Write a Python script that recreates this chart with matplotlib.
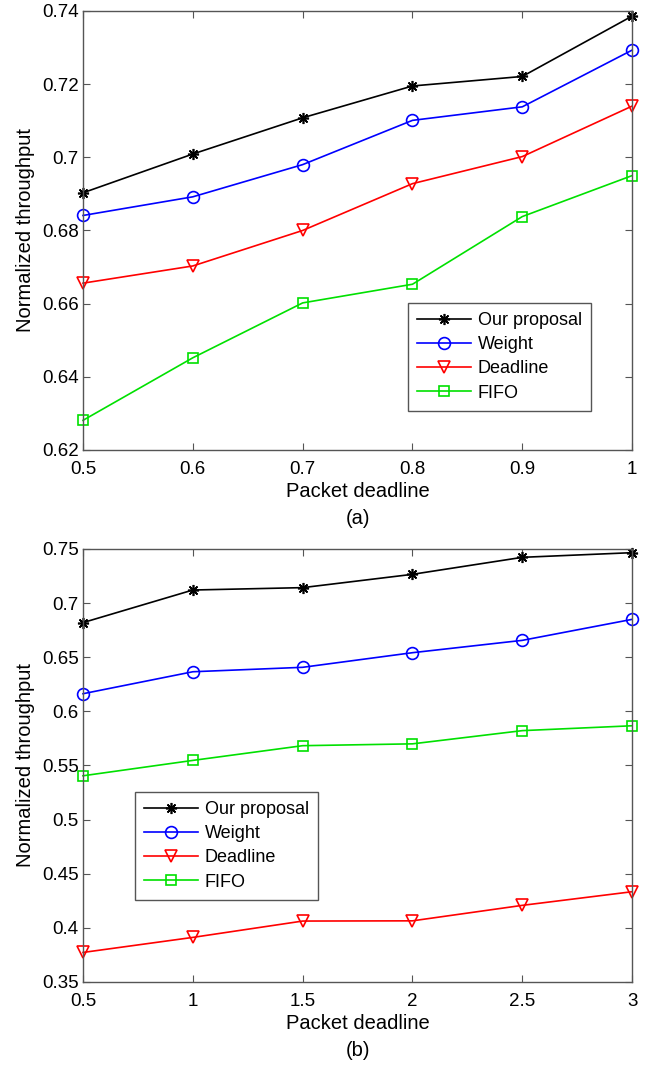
import matplotlib
matplotlib.use("Agg")
import matplotlib.pyplot as plt

plt.rcParams['font.family'] = ['Liberation Sans', 'DejaVu Sans']

# (a) deadline 0.5 .. 1
x_a = [0.5, 0.6, 0.7, 0.8, 0.9, 1.0]
ours_a = [0.6903, 0.7009, 0.7108, 0.7195, 0.7221, 0.7386]
weight_a = [0.6841, 0.6892, 0.6980, 0.7101, 0.7138, 0.7293]
deadline_a = [0.6656, 0.6703, 0.6800, 0.6928, 0.7002, 0.7140]
fifo_a = [0.6281, 0.6452, 0.6602, 0.6653, 0.6838, 0.6950]

# (b) deadline 0.5 .. 3
x_b = [0.5, 1.0, 1.5, 2.0, 2.5, 3.0]
ours_b = [0.6820, 0.7121, 0.7143, 0.7266, 0.7423, 0.7466]
weight_b = [0.6163, 0.6366, 0.6407, 0.6542, 0.6656, 0.6850]
deadline_b = [0.3773, 0.3912, 0.4063, 0.4065, 0.4208, 0.4334]
fifo_b = [0.5405, 0.5547, 0.5683, 0.5700, 0.5822, 0.5867]

labels = ['Our proposal', 'Weight', 'Deadline', 'FIFO']
# matlab-like '*' = plus and cross overlaid
styles = [('k', (8, 2, 0), 8), ('b', 'o', 8.5), ('r', 'v', 9), ('#00e000', 's', 6.5)]

fig = plt.figure(figsize=(6.46, 10.66), dpi=100)
ax1 = fig.add_axes([0.1285, 0.5779, 0.850, 0.4118])
ax2 = fig.add_axes([0.1285, 0.0788, 0.850, 0.4062])

def draw(ax, x, series, yticks, ylim, tag, leg_pos):
    for y, lab, (c, m, ms) in zip(series, labels, styles):
        ax.plot(x, y, color=c, marker=m, markersize=ms, markerfacecolor='none',
                markeredgecolor=c, markeredgewidth=1.2, linewidth=1.2, label=lab,
                clip_on=False)
    ax.set_xlim(x[0], x[-1])
    ax.set_ylim(*ylim)
    ax.set_xticks(x)
    ax.set_xticklabels([f'{t:g}' for t in x])
    ax.set_yticks(yticks)
    ax.set_yticklabels([f'{t:g}' for t in yticks])
    ax.tick_params(direction='in', top=True, right=True, labelsize=13.5,
                   length=5, color='#555555')
    ax.tick_params(axis='x', pad=8)
    ax.tick_params(axis='y', pad=3)
    for s in ax.spines.values():
        s.set_color('#555555')
        s.set_linewidth(1.0)
    ax.set_ylabel('Normalized throughput', fontsize=14.5, labelpad=5)
    ax.set_xlabel('Packet deadline\n' + tag, fontsize=14.5,
                  labelpad=3, linespacing=1.5)
    leg = ax.legend(loc='upper left', bbox_to_anchor=leg_pos, fontsize=13,
                    fancybox=False, edgecolor='#555555', framealpha=1,
                    handlelength=3.0, borderpad=0.5, labelspacing=0.4,
                    handletextpad=0.35, borderaxespad=0)
    leg.get_frame().set_linewidth(1.0)

draw(ax1, x_a, [ours_a, weight_a, deadline_a, fifo_a],
     [0.62, 0.64, 0.66, 0.68, 0.70, 0.72, 0.74], (0.62, 0.74), '(a)',
     (0.592, 0.335))
draw(ax2, x_b, [ours_b, weight_b, deadline_b, fifo_b],
     [0.35, 0.4, 0.45, 0.5, 0.55, 0.6, 0.65, 0.7, 0.75], (0.35, 0.75), '(b)',
     (0.095, 0.439))

fig.savefig('out.png', dpi=100)
